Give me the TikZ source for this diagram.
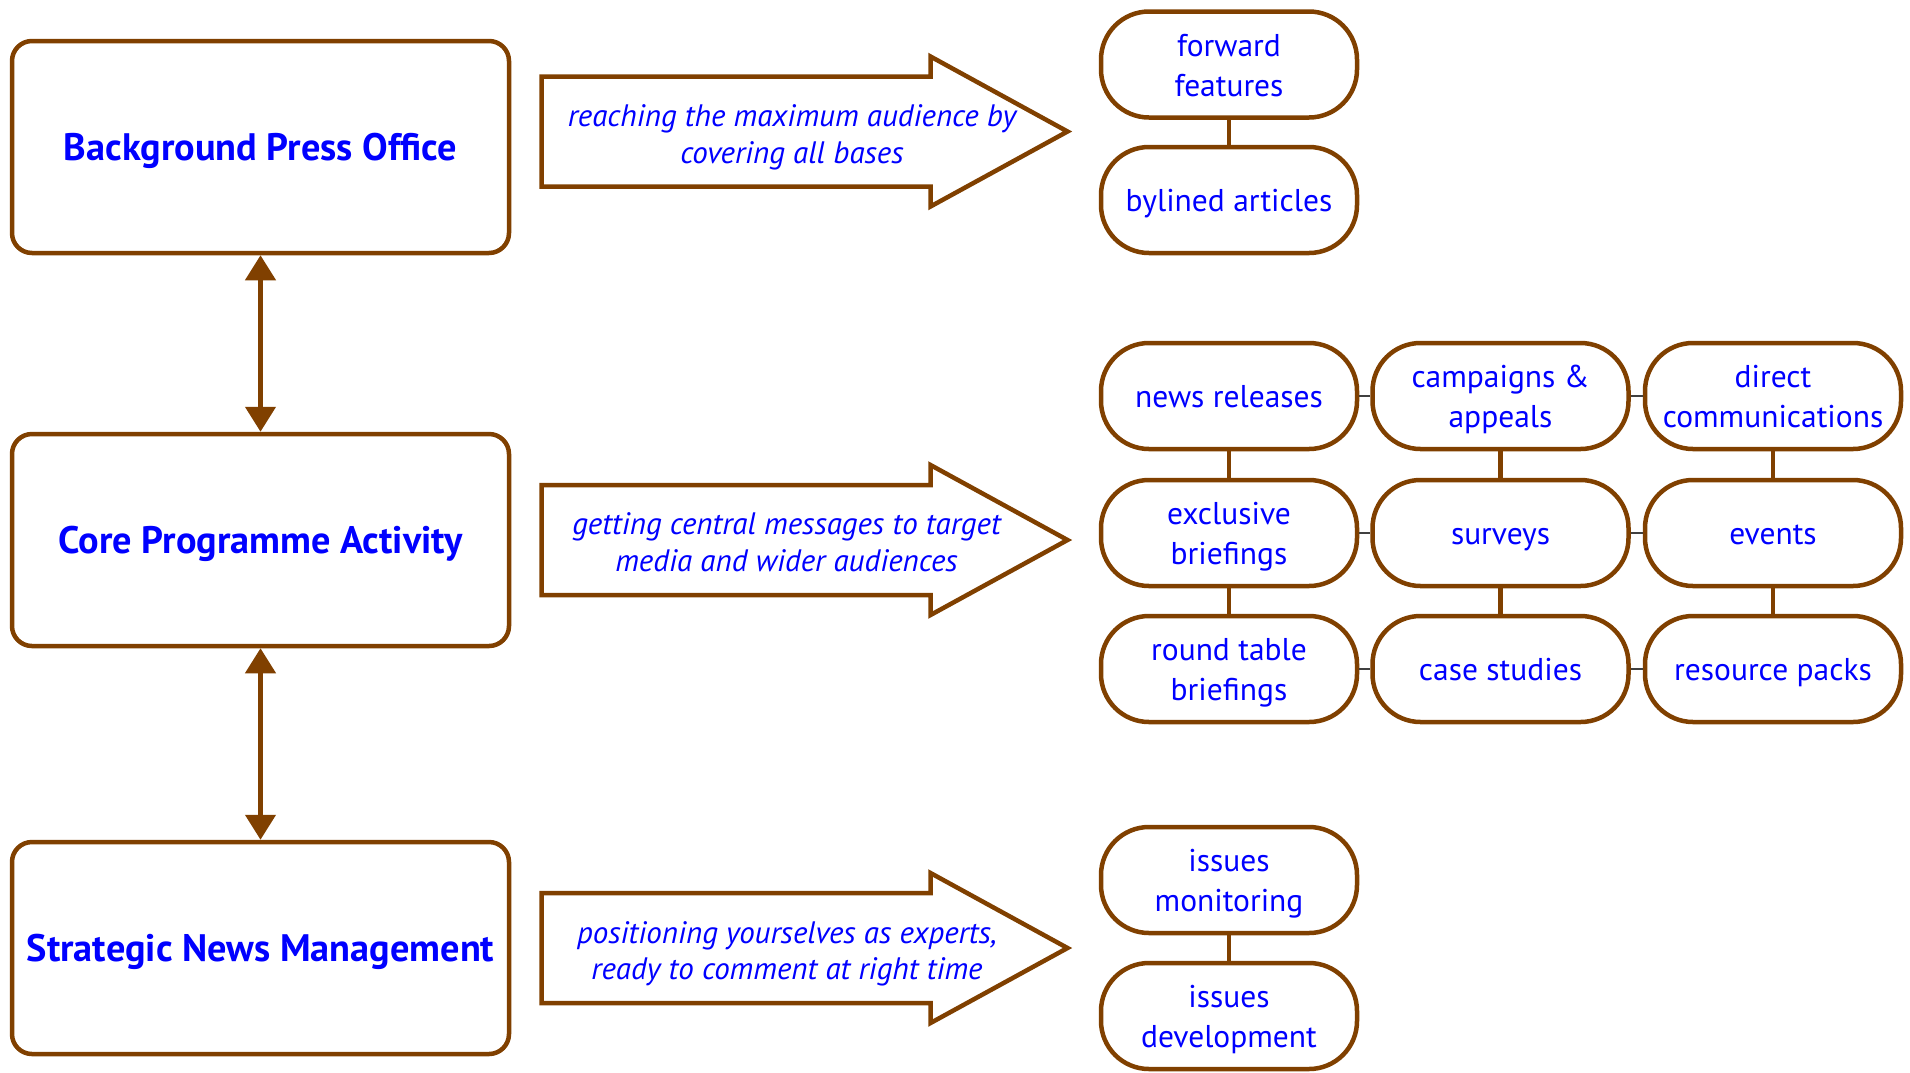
\documentclass[tikz,border=0pt]{standalone}
\usepackage{fontspec}
\setmainfont{PT Sans}
\usetikzlibrary{arrows.meta}
\definecolor{brn}{RGB}{128,64,0}
\definecolor{txt}{RGB}{0,0,255}
\newcommand{\pilltwo}[2]{\raisebox{0pt}[23pt][40pt]{\begin{tabular}[t]{@{}c@{}}#1\\#2\end{tabular}}}
\begin{document}
\begin{tikzpicture}[x=1pt,y=-1pt,
  mainbox/.style={draw=brn, line width=4.5pt, rounded corners=20pt, minimum width=497pt, minimum height=212pt,
    font=\fontsize{38.3}{44}\selectfont\bfseries, text=txt, inner sep=0pt, text height=27.5pt, text depth=0pt},
  pill/.style={draw=brn, line width=4.5pt, rounded corners=48pt, minimum width=256pt, minimum height=106pt,
    font=\fontsize{31.5}{40}\selectfont, text=txt, inner sep=0pt},
  pillone/.style={pill, text height=23pt, text depth=0pt},
  arrtext/.style={font=\fontsize{31}{36.5}\selectfont\itshape, text=txt, align=center, inner sep=0pt},
  bigarrow/.style={draw=brn, line width=4.5pt, line join=miter},
  dbl/.style={draw=brn, line width=4.5pt, {Triangle[width=30pt,length=25pt]}-{Triangle[width=30pt,length=25pt]}},
  vlink/.style={draw=brn, line width=4.5pt},
  hlink/.style={draw=black!75, line width=1.5pt}
]
\useasboundingbox (0,0) rectangle (1910,1072);
% left boxes
\node[mainbox] (bpo) at (260.5,147) {Background Press Office};
\node[mainbox] (cpa) at (260.5,540) {Core Programme Activity};
\node[mainbox] (snm) at (260.5,948) {Strategic News Management};
\draw[dbl] (bpo.south) -- (cpa.north);
\draw[dbl] (cpa.south) -- (snm.north);
% big arrows
\foreach \yc in {131.5,540,948}{
  \begin{scope}[shift={(0,\yc)}]
    \draw[bigarrow] (541.5,-55) -- (930.5,-55) -- (930.5,-75) -- (1067.5,0) -- (930.5,75) -- (930.5,55) -- (541.5,55) -- cycle;
  \end{scope}
}
\node[arrtext] (t1) at (792,137.5) {reaching the maximum audience by\\covering all bases};
\node[arrtext] (t2) at (786.5,542) {getting central messages to target\\media and wider audiences};
\node[arrtext] (t3) at (787,954) {positioning yourselves as experts,\\ready to comment at right time};
% top group
\node[pill] (ff) at (1229,64.5) {\pilltwo{forward}{features}};
\node[pillone] (ba) at (1229,200) {bylined articles};
\draw[vlink] (ff) -- (ba);
% middle grid
\node[pillone] (nr) at (1229,396) {news releases};
\node[pill] (eb) at (1229,533) {\pilltwo{exclusive}{briefings}};
\node[pill] (rt) at (1229,669) {\pilltwo{round table}{briefings}};
\node[pill] (ca) at (1500.5,396) {\pilltwo{campaigns \&}{appeals}};
\node[pillone] (sv) at (1500.5,533) {surveys};
\node[pillone] (cs) at (1500.5,669) {case studies};
\node[pill] (dc) at (1773,396) {\pilltwo{direct}{communications}};
\node[pillone] (ev) at (1773,533) {events};
\node[pillone] (rp) at (1773,669) {resource packs};
\draw[vlink] (nr) -- (eb); \draw[vlink] (eb) -- (rt);
\draw[vlink] (ca) -- (sv); \draw[vlink] (sv) -- (cs);
\draw[vlink] (dc) -- (ev); \draw[vlink] (ev) -- (rp);
\draw[hlink] (nr) -- (ca); \draw[hlink] (ca) -- (dc);
\draw[hlink] (eb) -- (sv); \draw[hlink] (sv) -- (ev);
\draw[hlink] (rt) -- (cs); \draw[hlink] (cs) -- (rp);
% bottom group
\node[pill] (im) at (1229,880) {\pilltwo{issues}{monitoring}};
\node[pill] (id) at (1229,1016) {\pilltwo{issues}{development}};
\draw[vlink] (im) -- (id);
\end{tikzpicture}
\end{document}
